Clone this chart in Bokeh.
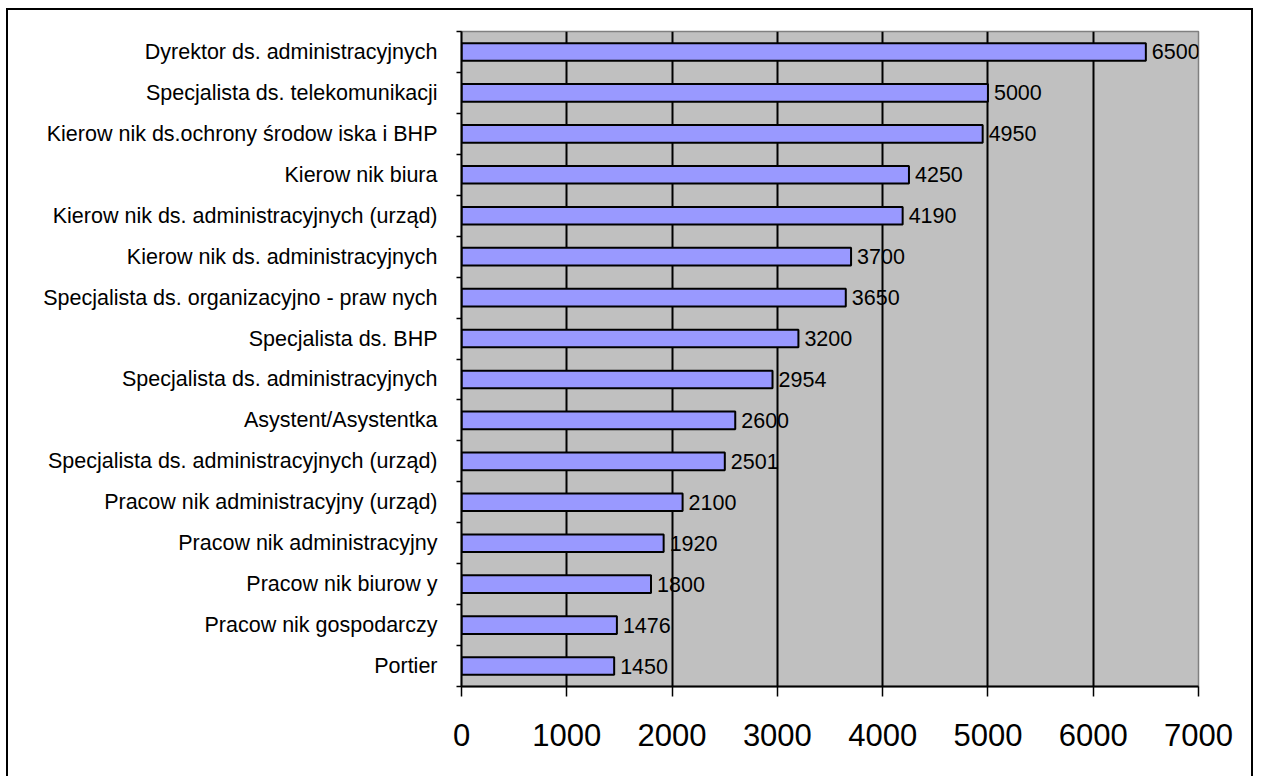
from bokeh.plotting import figure
from bokeh.models import Range1d, FixedTicker, ColumnDataSource
from bokeh.core.properties import value
from bokeh.embed import file_html
from bokeh.resources import INLINE

# categories listed top to bottom, as in the chart
categories = [
    "Dyrektor ds. administracyjnych",
    "Specjalista ds. telekomunikacji",
    "Kierow nik ds.ochrony środow iska i BHP",
    "Kierow nik biura",
    "Kierow nik ds. administracyjnych (urząd)",
    "Kierow nik ds. administracyjnych",
    "Specjalista ds. organizacyjno - praw nych",
    "Specjalista ds. BHP",
    "Specjalista ds. administracyjnych",
    "Asystent/Asystentka",
    "Specjalista ds. administracyjnych (urząd)",
    "Pracow nik administracyjny (urząd)",
    "Pracow nik administracyjny",
    "Pracow nik biurow y",
    "Pracow nik gospodarczy",
    "Portier",
]
values = [6500, 5000, 4950, 4250, 4190, 3700, 3650, 3200, 2954, 2600, 2501, 2100, 1920, 1800, 1476, 1450]
x_ticks = [0, 1000, 2000, 3000, 4000, 5000, 6000, 7000]

FONT = "Liberation Sans"
n = len(categories)
y_pos = [n - i - 0.5 for i in range(n)]
boundaries = list(range(n + 1))

src = ColumnDataSource(dict(
    y=y_pos, v=values, label=[str(v) for v in values], cat=categories,
))

p = figure(
    width=1247, height=768,
    x_range=Range1d(x_ticks[0], x_ticks[-1]), y_range=Range1d(0, n),
    output_backend="svg", toolbar_location=None,
    min_border_left=453, min_border_right=57, min_border_top=21, min_border_bottom=92,
    background_fill_color="#C0C0C0", border_fill_color="white",
)
p.styles = {
    "margin-left": "6px", "margin-top": "8px",
    "border-left": "2px solid black", "border-top": "2px solid black",
    "border-right": "2px solid black",
}

p.hbar(y="y", left=0, right="v", height=0.43, source=src,
       fill_color="#9999FF", line_color="black", line_width=2)
p.text(x="v", y="y", text="label", source=src, x_offset=6,
       text_align="left", text_baseline="middle",
       text_font=value(FONT), text_font_size="21.5px", text_color="black")

# x axis
p.xaxis.ticker = FixedTicker(ticks=x_ticks)
p.xaxis.major_tick_out = 10
p.xaxis.major_tick_in = 0
p.xaxis.minor_tick_out = 0
p.xaxis.minor_tick_in = 0
p.xaxis.axis_line_color = "black"
p.xaxis.axis_line_width = 2
p.xaxis.major_tick_line_color = "black"
p.xaxis.major_tick_line_width = 1.5
p.xaxis.major_label_text_font = FONT
p.xaxis.major_label_text_font_size = "31px"
p.xaxis.major_label_text_color = "black"
p.xaxis.major_label_standoff = 27

# y axis: labels at category centres, ticks at category boundaries
p.yaxis.ticker = FixedTicker(ticks=y_pos, minor_ticks=boundaries)
p.yaxis.major_label_overrides = {y: c for y, c in zip(y_pos, categories)}
p.yaxis.major_tick_out = 0
p.yaxis.major_tick_in = 0
p.yaxis.minor_tick_out = 5
p.yaxis.minor_tick_in = 0
p.yaxis.minor_tick_line_color = "black"
p.yaxis.minor_tick_line_width = 1.5
p.yaxis.axis_line_color = "black"
p.yaxis.axis_line_width = 2
p.yaxis.major_label_text_font = FONT
p.yaxis.major_label_text_font_size = "21.5px"
p.yaxis.major_label_text_color = "black"
p.yaxis.major_label_standoff = 19

# grid
p.xgrid.ticker = FixedTicker(ticks=x_ticks[1:-1])
p.xgrid.grid_line_color = "black"
p.xgrid.grid_line_width = 2
p.ygrid.grid_line_color = None

p.outline_line_color = "#808080"
p.outline_line_width = 1.5

open("out.html", "w").write(file_html(p, INLINE))
